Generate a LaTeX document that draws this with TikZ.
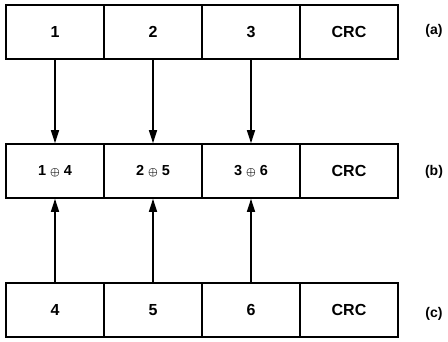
\documentclass[tikz,border=0pt]{standalone}
\usepackage{fontspec}
\setmainfont{Liberation Sans}
\usetikzlibrary{arrows.meta}
\newcommand{\xorop}{{\fontsize{11}{13}\selectfont\boldmath$\oplus$}}
\begin{document}
\begin{tikzpicture}[x=1pt,y=-1pt,
  cell/.style={draw=black,line width=1.6pt,minimum width=98pt,minimum height=54pt,inner sep=0pt,font=\bfseries\fontsize{16}{18}\selectfont},
  xcell/.style={cell,font=\bfseries\fontsize{14.5}{16}\selectfont},
  tag/.style={font=\bfseries\fontsize{14}{16}\selectfont},
  link/.style={line width=1.4pt,-{Triangle[length=13pt,width=8pt]}}]
\useasboundingbox (0,0) rectangle (448,341);
% row (a)
\node[cell] (a1) at (55,32) {1};
\node[cell] (a2) at (153,32) {2};
\node[cell] (a3) at (251,32) {3};
\node[cell] (a4) at (349,32) {CRC};
\node[tag] (la) at (434,31) {(a)};
% row (b)
\node[xcell] (b1) at (55,171) {1 \xorop{} 4};
\node[xcell] (b2) at (153,171) {2 \xorop{} 5};
\node[xcell] (b3) at (251,171) {3 \xorop{} 6};
\node[cell] (b4) at (349,171) {CRC};
\node[tag] (lb) at (434,172) {(b)};
% row (c)
\node[cell] (c1) at (55,310) {4};
\node[cell] (c2) at (153,310) {5};
\node[cell] (c3) at (251,310) {6};
\node[cell] (c4) at (349,310) {CRC};
\node[tag] (lc) at (434,314) {(c)};
% connectors
\foreach \i in {1,2,3}{
  \draw[link] (a\i.south) -- (b\i.north);
  \draw[link] (c\i.north) -- (b\i.south);
}
\end{tikzpicture}
\end{document}
